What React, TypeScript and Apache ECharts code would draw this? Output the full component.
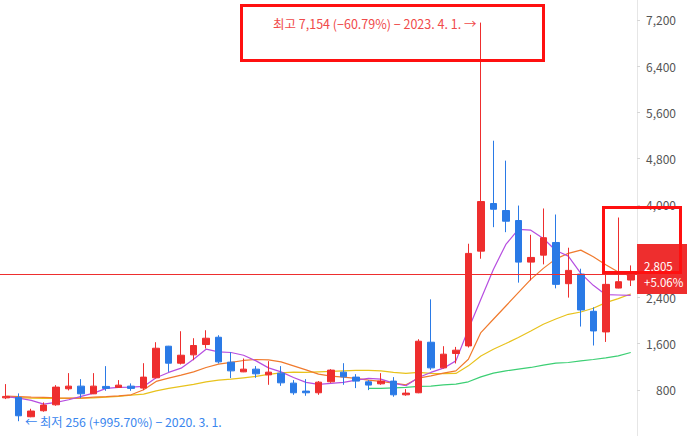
import React, { useEffect, useRef } from 'react';
import * as echarts from 'echarts';

const months = [
  '2020-02', '2020-03', '2020-04', '2020-05', '2020-06', '2020-07', '2020-08', '2020-09', '2020-10', '2020-11', '2020-12',
  '2021-01', '2021-02', '2021-03', '2021-04', '2021-05', '2021-06', '2021-07', '2021-08', '2021-09', '2021-10', '2021-11', '2021-12',
  '2022-01', '2022-02', '2022-03', '2022-04', '2022-05', '2022-06', '2022-07', '2022-08', '2022-09', '2022-10', '2022-11', '2022-12',
  '2023-01', '2023-02', '2023-03', '2023-04', '2023-05', '2023-06', '2023-07', '2023-08', '2023-09', '2023-10', '2023-11', '2023-12',
  '2024-01', '2024-02', '2024-03', '2024-04',
];

const opens = [
  660, 668, 333, 437, 540, 817, 863, 730, 858, 841, 863,
  829, 1007, 1554, 1260, 1404, 1583, 1709, 1278, 1110, 1157, 1058, 1088,
  915, 777, 748, 938, 1105, 1019, 938, 903, 950, 713, 748, 1623,
  1179, 1428, 1559, 3199, 4023, 3902, 3729, 3009, 3130, 3349, 2636, 2802,
  2158, 1801, 2560, 2699,
];
const closes = [
  685, 350, 432, 535, 846, 863, 730, 863, 824, 880, 824,
  1019, 1519, 1260, 1398, 1566, 1692, 1283, 1127, 1157, 1076, 1105, 920,
  748, 748, 932, 1140, 1024, 950, 881, 950, 713, 742, 1640, 1179,
  1416, 1485, 3160, 4057, 3924, 3717, 3009, 3090, 3431, 2624, 2866, 2181,
  1818, 2624, 2670, 2805,
];
const lows = [
  639, 256, 325, 420, 523, 789, 656, 725, 782, 835, 782,
  794, 996, 1110, 1238, 1312, 1514, 1255, 1001, 1105, 1007, 886, 868,
  713, 696, 713, 920, 886, 829, 794, 886, 679, 696, 740, 1145,
  1170, 1255, 1531, 3068, 3614, 3527, 2654, 2693, 2970, 2555, 2395, 1894,
  1566, 1628, 2555, 2595,
];
const highs = [
  898, 737, 471, 582, 880, 1088, 984, 1088, 1209, 967, 910,
  1260, 1623, 1560, 1813, 1692, 1830, 1744, 1450, 1341, 1209, 1295, 1209,
  967, 984, 950, 1157, 1260, 1070, 967, 1088, 1019, 811, 1675, 2365,
  1554, 1542, 3327, 7154, 5110, 4765, 3988, 3482, 3937, 3833, 3258, 2895,
  2227, 2809, 3781, 2952,
];

const ma5 = [
  682, 656, 616, 552, 582, 627, 685, 742, 824, 841, 846,
  858, 1007, 1100, 1174, 1329, 1502, 1455, 1445, 1398, 1300, 1179, 1110,
  1013, 927, 892, 909, 927, 967, 996, 984, 915, 869, 1013, 1100,
  1174, 1300, 1847, 2365, 2883, 3315, 3574, 3562, 3418, 3211, 3113, 2814,
  2607, 2446, 2440, 2434,
];
const ma10 = [
  691, 682, 673, 668, 661, 656, 656, 673, 682, 696, 713,
  800, 945, 1001, 1053, 1110, 1186, 1243, 1273, 1307, 1324, 1317, 1283,
  1214, 1145, 1070, 1036, 1019, 996, 967, 945, 915, 886, 1001, 1041,
  1088, 1128, 1329, 1790, 2020, 2250, 2481, 2711, 2901, 3065, 3160, 3217,
  3103, 2964, 2837, 2768,
];
const ma20 = [
  673, 665, 656, 651, 651, 651, 656, 661, 673, 685, 708,
  725, 782, 824, 858, 892, 938, 967, 984, 1007, 1031, 1065, 1093,
  1105, 1100, 1110, 1117, 1127, 1134, 1134, 1127, 1100, 1083, 1100, 1083,
  1079, 1083, 1214, 1386, 1502, 1600, 1704, 1818, 1934, 2025, 2106, 2146,
  2210, 2308, 2377, 2457,
];
const ma60 = [
  null, null, null, null, null, null, null, null, null, null, null,
  null, null, null, null, null, null, null, null, null, null, null, null,
  null, null, null, null, null, null, 824, 824, 834, 841, 858, 863,
  886, 898, 938, 1024, 1088, 1128, 1157, 1186, 1226, 1260, 1272, 1300,
  1324, 1352, 1386, 1445,
];

const currentPrice = 2805;
const priceLabel = '2,805';
const changeLabel = '+5.06%';
const highText = '최고 7,154 (−60.79%) − 2023. 4. 1. →';
const lowText = '← 최저 256 (+995.70%) − 2020. 3. 1.';
const yMin = 0;
const yMax = 7545;
const yInterval = 800;

const RED = '#ee2e2e';
const BLUE = '#2a7ae6';
const FONT = '"Noto Sans CJK KR", "Noto Sans", sans-serif';

export default function App() {
  const ref = useRef<HTMLDivElement>(null);
  useEffect(() => {
    const chart = echarts.init(ref.current as HTMLDivElement, null, { renderer: 'svg' });
    chart.setOption({
      animation: false,
      backgroundColor: '#ffffff',
      grid: { left: -1, top: 0, width: 638, height: 437 },
      xAxis: {
        type: 'category',
        data: months,
        boundaryGap: true,
        show: false,
      },
      yAxis: {
        type: 'value',
        position: 'right',
        min: yMin,
        max: yMax,
        interval: yInterval,
        splitLine: { show: false },
        axisLine: { show: true, lineStyle: { color: '#e6e6e6', width: 1 } },
        axisTick: { show: true, length: 3, lineStyle: { color: '#d6d6d6' } },
        axisLabel: {
          showMinLabel: false,
          showMaxLabel: false,
          align: 'right',
          margin: 39,
          color: '#555555',
          fontSize: 12,
          fontFamily: FONT,
          formatter: (v: number) => v.toLocaleString('en-US'),
        },
      },
      series: [
        { type: 'line', data: ma60, symbol: 'none', lineStyle: { color: '#3ccf74', width: 1.2 }, z: 2 },
        { type: 'line', data: ma20, symbol: 'none', lineStyle: { color: '#e8c21c', width: 1.2 }, z: 2 },
        { type: 'line', data: ma10, symbol: 'none', lineStyle: { color: '#f07a2d', width: 1.2 }, z: 2 },
        { type: 'line', data: ma5, symbol: 'none', lineStyle: { color: '#b64ee0', width: 1.2 }, z: 2 },
        {
          type: 'candlestick',
          z: 3,
          barWidth: 7,
          data: months.map((_, i) => [opens[i], closes[i], lows[i], highs[i]]),
          itemStyle: {
            color: RED,
            color0: BLUE,
            borderColor: RED,
            borderColor0: BLUE,
            borderWidth: 1,
          },
          markLine: {
            silent: true,
            symbol: ['none', 'none'],
            label: { show: false },
            lineStyle: { color: RED, width: 1, type: 'solid' },
            data: [{ yAxis: currentPrice }],
          },
        },
      ],
      graphic: [
        {
          type: 'rect',
          z: 100,
          shape: { x: 637, y: 244, width: 50, height: 50 },
          style: { fill: RED },
        },
        {
          type: 'text',
          z: 101,
          style: { text: priceLabel, x: 644, y: 266, fill: '#ffffff', font: `11.5px ${FONT}`, verticalAlign: 'middle' },
        },
        {
          type: 'text',
          z: 101,
          style: { text: changeLabel, x: 644, y: 281.5, fill: '#ffffff', font: `11.5px ${FONT}`, verticalAlign: 'middle' },
        },
        {
          type: 'rect',
          z: 110,
          shape: { x: 241.5, y: 5.5, width: 302, height: 55 },
          style: { fill: 'none', stroke: '#ff1010', lineWidth: 3 },
        },
        {
          type: 'rect',
          z: 110,
          shape: { x: 603.5, y: 207.5, width: 77, height: 65 },
          style: { fill: 'none', stroke: '#ff1010', lineWidth: 3 },
        },
        {
          type: 'text',
          z: 105,
          style: { text: highText, x: 273, y: 23, fill: '#f04a4a', font: `12.5px ${FONT}`, verticalAlign: 'middle' },
        },
        {
          type: 'text',
          z: 105,
          style: { text: lowText, x: 25, y: 422, fill: '#3a86ee', font: `12.3px ${FONT}`, verticalAlign: 'middle' },
        },
      ],
    });
    return () => chart.dispose();
  }, []);
  return <div ref={ref} style={{ position: 'fixed', left: 0, top: 0, width: 691, height: 436 }} />;
}
